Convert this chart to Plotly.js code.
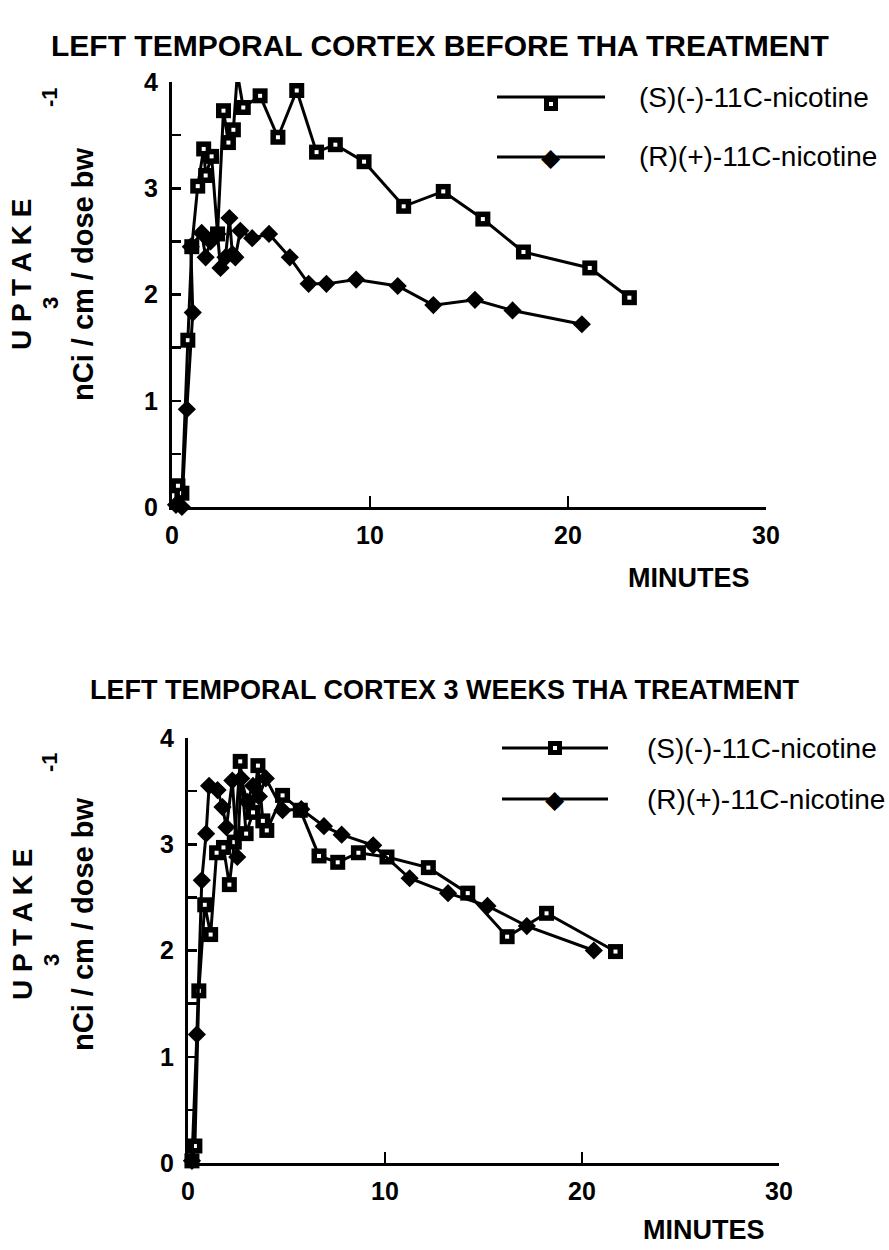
<!DOCTYPE html>
<html><head><meta charset="utf-8">
<script src="https://cdn.plot.ly/plotly-3.0.1.min.js"></script>
<style>body{margin:0;background:#fff}#chart{width:889px;height:1250px}</style>
</head><body><div id="chart"></div>
<script>
// ---- text ----
const topTitle = "LEFT TEMPORAL CORTEX BEFORE THA TREATMENT";
const bottomTitle = "LEFT TEMPORAL CORTEX 3 WEEKS THA TREATMENT";
const seriesNames = ["(S)(-)-11C-nicotine", "(R)(+)-11C-nicotine"];
const xTitle = "MINUTES";
const yTitleMain = "U P T A K E";
const yTitleUnits = "nCi / cm / dose bw";
const xTickVals = [0, 10, 20, 30];
const xTickText = ["0", "10", "20", "30"];
const yTickVals = [0, 0.5, 1, 1.5, 2, 2.5, 3, 3.5, 4];
const yTickText = ["0", "", "1", "", "2", "", "3", "", "4"];

// ---- top chart: before THA treatment ----
const topS_x = [0.3, 0.5, 0.8, 1.0, 1.3, 1.6, 1.7, 2.0, 2.3, 2.6, 2.85, 3.1, 3.3, 3.6, 4.45, 5.35, 6.3, 7.3, 8.25, 9.7, 11.7, 13.7, 15.7, 17.75, 21.1, 23.1];
const topS_y = [0.2, 0.13, 1.57, 2.45, 3.02, 3.37, 3.12, 3.3, 2.57, 3.73, 3.43, 3.55, 4.08, 3.76, 3.87, 3.48, 3.92, 3.34, 3.41, 3.25, 2.83, 2.97, 2.71, 2.4, 2.25, 1.97];
const topR_x = [0.2, 0.5, 0.75, 1.05, 0.95, 1.5, 1.7, 1.95, 2.3, 2.45, 2.7, 2.9, 3.05, 3.2, 3.45, 4.05, 4.9, 5.95, 6.9, 7.8, 9.3, 11.4, 13.2, 15.3, 17.2, 20.7];
const topR_y = [0.02, 0.0, 0.92, 1.83, 2.45, 2.58, 2.35, 2.5, 2.57, 2.25, 2.35, 2.72, 2.38, 2.35, 2.6, 2.53, 2.57, 2.35, 2.1, 2.1, 2.14, 2.08, 1.9, 1.95, 1.85, 1.72];

// ---- bottom chart: 3 weeks THA treatment ----
const botS_x = [0.2, 0.35, 0.55, 0.85, 1.15, 1.45, 1.8, 2.1, 2.35, 2.65, 2.95, 3.3, 3.55, 3.8, 4.0, 4.8, 5.7, 6.65, 7.6, 8.65, 10.1, 12.2, 14.2, 16.2, 18.2, 21.7];
const botS_y = [0.02, 0.16, 1.62, 2.43, 2.15, 2.92, 2.97, 2.62, 3.02, 3.78, 3.1, 3.3, 3.74, 3.22, 3.13, 3.46, 3.32, 2.89, 2.83, 2.92, 2.88, 2.78, 2.54, 2.13, 2.35, 1.99];
const botR_x = [0.2, 0.45, 0.7, 0.92, 1.07, 1.5, 1.75, 1.95, 2.25, 2.5, 2.7, 3.0, 3.3, 3.6, 3.95, 4.8, 5.75, 6.9, 7.8, 9.4, 11.25, 13.2, 15.2, 17.2, 20.6];
const botR_y = [0.02, 1.21, 2.66, 3.1, 3.55, 3.51, 3.35, 3.16, 3.6, 2.88, 3.62, 3.4, 3.55, 3.45, 3.62, 3.32, 3.33, 3.17, 3.09, 2.99, 2.68, 2.54, 2.42, 2.23, 2.0];

// ---- styling ----
const W = 889, H = 1250;
const FONT = "Liberation Sans, Arial, Helvetica, sans-serif";
const lineStyle = {color: "black", width: 3};
const dia = {symbol: "diamond", size: 14, color: "black", line: {width: 0}};
function sizes(xs, hide, s) { return xs.map((_, i) => (i === hide ? 0 : s)); }

function sTraces(xs, ys, xa, ya, hide, name) {
  return [
    {x: xs, y: ys, xaxis: xa, yaxis: ya, mode: "lines+markers", line: lineStyle, cliponaxis: false, name: name, showlegend: false,
      marker: {symbol: "square", size: sizes(xs, hide, 15), color: "black", opacity: 1, line: {width: 0}}},
    {x: xs, y: ys, xaxis: xa, yaxis: ya, mode: "markers", cliponaxis: false, name: name, showlegend: false,
      marker: {symbol: "square", size: sizes(xs, hide, 4), color: "white", opacity: 1, line: {width: 0}}}
  ];
}
const traces = [].concat(
  sTraces(topS_x, topS_y, "x", "y", 12, seriesNames[0]),
  [{x: topR_x, y: topR_y, xaxis: "x", yaxis: "y", mode: "lines+markers", line: lineStyle, marker: dia, cliponaxis: false, name: seriesNames[1], showlegend: false}],
  sTraces(botS_x, botS_y, "x2", "y2", -1, seriesNames[0]),
  [{x: botR_x, y: botR_y, xaxis: "x2", yaxis: "y2", mode: "lines+markers", line: lineStyle, marker: dia, cliponaxis: false, name: seriesNames[1], showlegend: false}]
);

// plot frames in pixels
const P1 = {x0: 172, x1: 766, y0: 507, y1: 82};
const P2 = {x0: 188, x1: 779, y0: 1163, y1: 738};
const px = v => v / W, py = v => 1 - v / H;
const tickFont = {family: FONT, size: 25, color: "black", weight: "bold"};

function xAxis(P, anchor) {
  return {domain: [px(P.x0), px(P.x1)], range: [0, 30], anchor: anchor, showline: true, linewidth: 3, linecolor: "black",
    ticks: "inside", ticklen: 11, tickwidth: 2.5, tickcolor: "black", tickvals: xTickVals, ticktext: xTickText,
    ticklabelstandoff: 4, showgrid: false, zeroline: false, tickfont: tickFont, fixedrange: true};
}
function yAxis(P, anchor) {
  return {domain: [py(P.y0), py(P.y1)], range: [0, 4], anchor: anchor, showline: true, linewidth: 3, linecolor: "black",
    ticks: "inside", ticklen: 9, tickwidth: 2.5, tickcolor: "black", tickvals: yTickVals, ticktext: yTickText,
    ticklabelstandoff: 6, showgrid: false, zeroline: false, tickfont: tickFont, fixedrange: true};
}

const ann = [];
const shapes = [];
function txt(text, x, y, size, bold, angle, anchor) {
  ann.push({text: bold ? "<b>" + text + "</b>" : text, x: px(x), y: py(y), xref: "paper", yref: "paper",
    showarrow: false, xanchor: anchor || "center", yanchor: "middle", textangle: angle || 0,
    font: {family: FONT, size: size, color: "black"}});
}
// titles
txt(topTitle, 440, 45, 30, true);
txt(bottomTitle, 445, 690, 27, true);
txt(xTitle, 689, 578, 27, true);
txt(xTitle, 704, 1230, 27, true);
// y titles
function yTitles(yc, y3, y1) {
  txt(yTitleMain, 22, yc, 28, true, -90);
  txt("3", 51, y3, 22, true, -90);
  txt(yTitleUnits, 83, yc, 29, true, -90);
  txt("-1", 49, y1, 22, true, -90);
}
yTitles(275, 303, 97);
yTitles(925, 960, 762);

// legends
function legendItem(x0, x1, y, isSquare, label, textX) {
  shapes.push({type: "line", xref: "paper", yref: "paper", x0: px(x0), x1: px(x1), y0: py(y), y1: py(y), line: {color: "black", width: 3}});
  if (isSquare) {
    ann.push({text: "", x: px((x0 + x1) / 2), y: py(y), xref: "paper", yref: "paper", showarrow: false,
      width: 4, height: 4, borderwidth: 5, bordercolor: "black", bgcolor: "white", borderpad: 0});
  } else {
    txt("\u25C6", (x0 + x1) / 2, y, 25, false);
  }
  txt(label, textX, y, 28, false, 0, "left");
}
legendItem(497, 605, 97, true, seriesNames[0], 637);
legendItem(497, 605, 157, false, seriesNames[1], 637);
legendItem(502, 608, 748, true, seriesNames[0], 645);
legendItem(502, 608, 799, false, seriesNames[1], 645);

const layout = {
  width: W, height: H, margin: {l: 0, r: 0, t: 0, b: 0},
  paper_bgcolor: "white", plot_bgcolor: "white", showlegend: false,
  xaxis: xAxis(P1, "y"), yaxis: yAxis(P1, "x"),
  xaxis2: xAxis(P2, "y2"), yaxis2: yAxis(P2, "x2"),
  annotations: ann, shapes: shapes,
  font: {family: FONT, color: "black"}
};

Plotly.newPlot("chart", traces, layout, {displayModeBar: false, staticPlot: true});
</script>
</body></html>
